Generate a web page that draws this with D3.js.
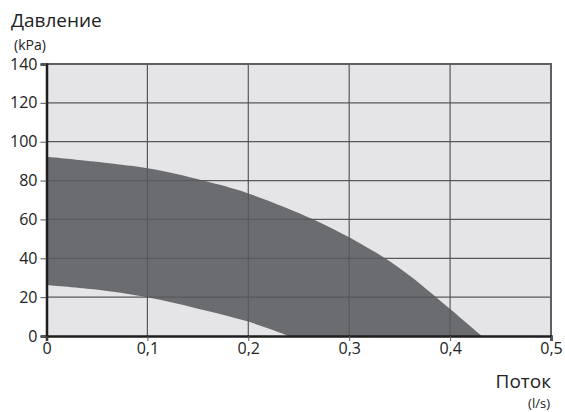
<!DOCTYPE html>
<html><head><meta charset="utf-8">
<script src="https://cdn.jsdelivr.net/npm/d3@7"></script>
<style>
body{margin:0;background:#fff;}
text{font-family:"Open Sans","Noto Sans",sans-serif;fill:#222;}
</style></head>
<body><svg id="c" width="565" height="412"></svg>
<script>
const xTicks = [0, 0.1, 0.2, 0.3, 0.4, 0.5];
const yTicks = [0, 20, 40, 60, 80, 100, 120, 140];
const upperFlow = [0, 0.1, 0.155, 0.2, 0.2647, 0.3, 0.3208, 0.3356, 0.3604, 0.4, 0.4314];
const upperPressure = [92.2, 86.3, 80, 73.4, 60, 50.8, 44.6, 40, 30.9, 13.9, 0];
const lowerFlow = [0, 0.047, 0.1, 0.149, 0.2, 0.240];
const lowerPressure = [26.3, 24.0, 19.9, 14.2, 7.4, 0];
const yTitle = "Давление", yUnit = "(kPa)", xTitle = "Поток", xUnit = "(l/s)";

const svg = d3.select("#c");
const L = 46.5, R = 551, T = 64, B = 336;
const x = d3.scaleLinear().domain([0, 0.5]).range([L, R]);
const y = d3.scaleLinear().domain([0, 140]).range([B, T]);

svg.append("rect").attr("x", L).attr("y", T).attr("width", R - L).attr("height", B - T).attr("fill", "#e5e5e7");

// band between upper and lower curves
const upper = upperFlow.map((f, i) => [f, upperPressure[i]]);
const lower = lowerFlow.map((f, i) => [f, lowerPressure[i]]);
const line = d3.line().x(d => x(d[0])).y(d => y(d[1])).curve(d3.curveCatmullRom.alpha(0.5));
const upPath = line(upper);
const lowPath = line(lower.slice().reverse()).replace(/^M/, "L");
svg.append("path")
  .attr("d", upPath + "L" + x(lower[lower.length - 1][0]) + "," + y(0) + lowPath + "Z")
  .attr("fill", "#6b6c70");

// grid
svg.append("g").selectAll("line").data(yTicks.filter(v => v > 0 && v < 140)).join("line")
  .attr("x1", L).attr("x2", R).attr("y1", d => y(d)).attr("y2", d => y(d))
  .attr("stroke", "#58595c").attr("stroke-width", 1.2);
svg.append("g").selectAll("line").data(xTicks.filter(v => v > 0 && v < 0.5)).join("line")
  .attr("y1", T).attr("y2", B).attr("x1", d => x(d)).attr("x2", d => x(d))
  .attr("stroke", "#58595c").attr("stroke-width", 1.2);

// border top/right
svg.append("path").attr("d", `M${L},${T}H${R}V${B}`).attr("fill", "none").attr("stroke", "#5e5f62").attr("stroke-width", 2);

const fmt = d => String(d).replace(".", ",");
const yAxis = svg.append("g").attr("transform", `translate(${L},0)`)
  .call(d3.axisLeft(y).tickValues(yTicks).tickSize(6).tickPadding(3).tickFormat(d => d));
yAxis.select(".domain").attr("stroke", "#1e1e1e").attr("stroke-width", 2.5);
yAxis.selectAll(".tick line").attr("stroke", "#555");
yAxis.selectAll("text").style("font-size", "16px").attr("fill", "#333");

const xAxis = svg.append("g").attr("transform", `translate(0,${B})`)
  .call(d3.axisBottom(x).tickValues(xTicks).tickSize(5).tickPadding(2).tickFormat(fmt));
xAxis.select(".domain").attr("stroke", "#1e1e1e").attr("stroke-width", 2.5);
xAxis.selectAll(".tick line").attr("stroke", "#555");
xAxis.selectAll("text").style("font-size", "16px").attr("fill", "#333");

svg.append("text").attr("x", 11).attr("y", 27).style("font-size", "19px").text(yTitle);
svg.append("text").attr("x", 14).attr("y", 50).style("font-size", "14px").attr("fill", "#444").text(yUnit);
svg.append("text").attr("x", 551).attr("y", 388).attr("text-anchor", "end").style("font-size", "19px").text(xTitle);
svg.append("text").attr("x", 550).attr("y", 408).attr("text-anchor", "end").style("font-size", "13px").attr("fill", "#444").text(xUnit);
</script></body></html>
